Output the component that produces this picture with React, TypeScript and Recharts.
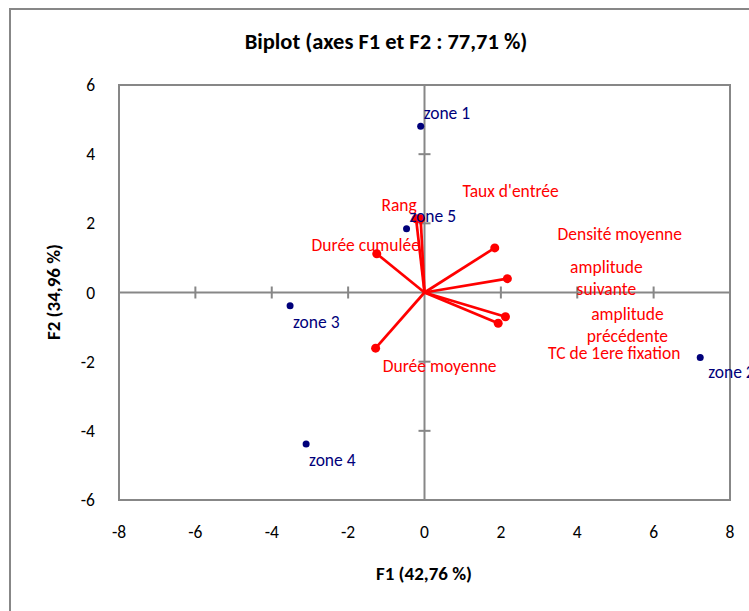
import {
  ScatterChart,
  Scatter,
  XAxis,
  YAxis,
  ReferenceLine,
  ReferenceArea,
} from "recharts";

// observations (zones) on F1 / F2
const zoneNames = ["zone 1", "zone 2", "zone 3", "zone 4", "zone 5"];
const zoneF1 = [-0.1, 7.22, -3.52, -3.1, -0.47];
const zoneF2 = [4.81, -1.88, -0.38, -4.38, 1.84];

// variables (vectors from origin)
const varNames = [
  "Rang",
  "Taux d'entrée",
  "Durée cumulée",
  "Densité moyenne",
  "amplitude suivante",
  "amplitude précédente",
  "TC de 1ere fixation",
  "Durée moyenne",
];
const varF1 = [-0.22, -0.1, -1.25, 1.84, 2.17, 2.12, 1.93, -1.28];
const varF2 = [2.13, 2.13, 1.12, 1.29, 0.4, -0.7, -0.89, -1.61];

const xTicks = [-8, -6, -4, -2, 0, 2, 4, 6, 8];
const yTicks = [-6, -4, -2, 0, 2, 4, 6];

const FONT = "Carlito, Calibri, Lato, sans-serif";
const AXIS_GREY = "#878787";
const NAVY = "#00007a";
const RED = "#ff0000";
const LABEL_SIZE = 17.5;
const TICK_SIZE = 17.5;

// label placement (pixel offsets from the point, text centre)
const ZONE_LABEL = [
  { dx: 3, dy: -13 },
  { dx: 8, dy: 14 },
  { dx: 3, dy: 16 },
  { dx: 3, dy: 16 },
  { dx: 3, dy: -13 },
];
const VAR_LABEL = [
  { dx: -17, dy: -14, wrap: false },
  { dx: 90, dy: -28, wrap: false },
  { dx: -11, dy: -9, wrap: false },
  { dx: 125, dy: -14, wrap: false },
  { dx: 99, dy: -1, wrap: true },
  { dx: 122, dy: 8, wrap: true },
  { dx: 116, dy: 30, wrap: false },
  { dx: 64, dy: 18, wrap: false },
];

const zones = zoneNames.map((name, i) => ({ name, x: zoneF1[i], y: zoneF2[i], i }));
const vars = varNames.map((name, i) => ({ name, x: varF1[i], y: varF2[i], i }));
const xAxisTicks = xTicks.filter((t) => t !== 0 && Math.abs(t) !== 8).map((t) => ({ x: t, y: 0 }));
const yAxisTicks = yTicks.filter((t) => t !== 0 && Math.abs(t) !== 6).map((t) => ({ x: 0, y: t }));

const ZoneShape = (props: any) => {
  const { cx, cy, payload } = props;
  const o = ZONE_LABEL[payload.i];
  return (
    <g>
      <circle cx={cx} cy={cy} r={3.5} fill={NAVY} />
      <text
        x={cx + o.dx}
        y={cy + o.dy}
        dy="0.35em"
        fill={NAVY}
        fontSize={LABEL_SIZE}
        fontFamily={FONT}
      >
        {payload.name}
      </text>
    </g>
  );
};

const VarShape = (props: any) => {
  const { cx, cy, payload } = props;
  const o = VAR_LABEL[payload.i];
  const lines: string[] = o.wrap ? payload.name.split(" ") : [payload.name];
  const lh = 21.5;
  return (
    <g>
      <circle cx={cx} cy={cy} r={4.5} fill={RED} />
      <text
        x={cx + o.dx}
        y={cy + o.dy - ((lines.length - 1) * lh) / 2}
        textAnchor="middle"
        fill={RED}
        fontSize={LABEL_SIZE}
        fontFamily={FONT}
      >
        {lines.map((l, k) => (
          <tspan key={k} x={cx + o.dx} dy={k === 0 ? "0.35em" : lh}>
            {l}
          </tspan>
        ))}
      </text>
    </g>
  );
};

const HTick = (props: any) => {
  const { cx, cy } = props;
  return <line x1={cx} x2={cx} y1={cy - 6} y2={cy + 6} stroke={AXIS_GREY} strokeWidth={2} />;
};

const VTick = (props: any) => {
  const { cx, cy } = props;
  return <line x1={cx - 6} x2={cx + 6} y1={cy} y2={cy} stroke={AXIS_GREY} strokeWidth={2} />;
};

const NoShape = () => <g />;

const XTick = (props: any) => {
  const { x, y, payload } = props;
  return (
    <text x={x} y={y} dy="0.35em" textAnchor="middle" fontSize={TICK_SIZE} fontFamily={FONT} fill="#000">
      {payload.value}
    </text>
  );
};

const YTick = (props: any) => {
  const { x, y, payload } = props;
  return (
    <text x={x} y={y} dy="0.35em" textAnchor="end" fontSize={TICK_SIZE} fontFamily={FONT} fill="#000">
      {payload.value}
    </text>
  );
};

export default function App() {
  return (
    <div
      style={{
        position: "fixed",
        left: 0,
        top: 0,
        width: 749,
        height: 611,
        overflow: "hidden",
        background: "#fff",
        fontFamily: FONT,
      }}
    >
      <div
        style={{
          position: "absolute",
          left: 9,
          top: 8,
          width: 752,
          height: 640,
          border: `2px solid ${AXIS_GREY}`,
          boxSizing: "border-box",
        }}
      />
      <div
        style={{
          position: "absolute",
          left: 9,
          width: 754,
          top: 28,
          lineHeight: "28px",
          textAlign: "center",
          fontWeight: 700,
          fontSize: 22.5,
        }}
      >
        Biplot (axes F1 et F2 : 77,71 %)
      </div>
      <div
        style={{
          position: "absolute",
          left: 324,
          width: 200,
          top: 562,
          lineHeight: "24px",
          textAlign: "center",
          fontWeight: 700,
          fontSize: 19,
        }}
      >
        F1 (42,76 %)
      </div>
      <div
        style={{
          position: "absolute",
          left: 54 - 100,
          width: 200,
          top: 292 - 12,
          lineHeight: "24px",
          textAlign: "center",
          fontWeight: 700,
          fontSize: 19,
          transform: "rotate(-90deg)",
        }}
      >
        F2 (34,96 %)
      </div>
      <div style={{ position: "absolute", left: 0, top: 0 }}>
        <ScatterChart
          width={749}
          height={611}
          margin={{ top: 85, right: 19, bottom: 71, left: 79 }}
          style={{ overflow: "visible" }}
        >
          <XAxis
            type="number"
            dataKey="x"
            domain={[-8, 8]}
            ticks={xTicks}
            axisLine={false}
            tickLine={false}
            tickSize={0}
            tickMargin={32}
            height={40}
            tick={<XTick />}
          />
          <YAxis
            type="number"
            dataKey="y"
            domain={[-6, 6]}
            ticks={yTicks}
            axisLine={false}
            tickLine={false}
            tickSize={0}
            tickMargin={24}
            width={40}
            tick={<YTick />}
          />
          <ReferenceArea
            x1={-8}
            x2={8}
            y1={-6}
            y2={6}
            fill="none"
            stroke={AXIS_GREY}
            strokeWidth={2}
          />
          <ReferenceLine x={0} stroke={AXIS_GREY} strokeWidth={2} />
          <ReferenceLine y={0} stroke={AXIS_GREY} strokeWidth={2} />
          <Scatter data={xAxisTicks} shape={<HTick />} isAnimationActive={false} />
          <Scatter data={yAxisTicks} shape={<VTick />} isAnimationActive={false} />
          {vars.map((v) => (
            <Scatter
              key={v.name}
              data={[
                { x: 0, y: 0 },
                { x: v.x, y: v.y },
              ]}
              line={{ stroke: RED, strokeWidth: 2.7 }}
              shape={<NoShape />}
              isAnimationActive={false}
            />
          ))}
          <Scatter data={vars} shape={<VarShape />} isAnimationActive={false} />
          <Scatter data={zones} shape={<ZoneShape />} isAnimationActive={false} />
        </ScatterChart>
      </div>
    </div>
  );
}
